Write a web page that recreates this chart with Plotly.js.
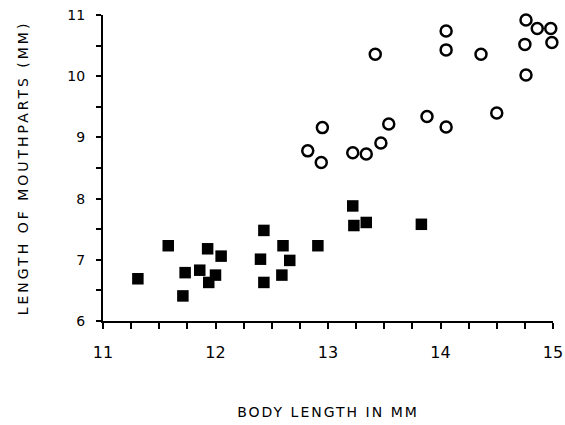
<!DOCTYPE html>
<html>
<head>
<meta charset="utf-8">
<script src="https://cdn.plot.ly/plotly-3.0.1.min.js"></script>
<style>
html,body{margin:0;padding:0;background:#fff;}
.xtitle{letter-spacing:2px;}
.ytitle{letter-spacing:3px;}
</style>
</head>
<body>
<div id="chart" style="width:565px;height:425px;"></div>
<script>
// Open circles (upper group)
const circleX = [12.82, 12.95, 12.94, 13.22, 13.34, 13.47, 13.54, 13.42, 13.88, 14.05, 14.05, 14.05, 14.36, 14.50, 14.75, 14.76, 14.76, 14.86, 14.98, 14.99];
const circleY = [8.78, 9.16, 8.59, 8.75, 8.73, 8.91, 9.22, 10.36, 9.34, 9.17, 10.43, 10.74, 10.36, 9.40, 10.52, 10.02, 10.92, 10.78, 10.78, 10.55];
// Filled squares (lower group)
const squareX = [11.31, 11.58, 11.73, 11.71, 11.86, 11.93, 11.94, 12.05, 12.00, 12.40, 12.43, 12.43, 12.60, 12.66, 12.59, 12.91, 13.22, 13.23, 13.34, 13.83];
const squareY = [6.69, 7.23, 6.79, 6.41, 6.83, 7.18, 6.63, 7.06, 6.75, 7.01, 7.48, 6.63, 7.23, 6.99, 6.75, 7.23, 7.88, 7.56, 7.61, 7.58];

const xTicks = [11, 12, 13, 14, 15];
const yTicks = [6, 7, 8, 9, 10, 11];

const data = [
  {
    x: circleX, y: circleY, type: 'scatter', mode: 'markers',
    marker: {symbol: 'circle-open', size: 11, color: '#000', line: {width: 2.5, color: '#000'}},
    cliponaxis: false, hoverinfo: 'x+y'
  },
  {
    x: squareX, y: squareY, type: 'scatter', mode: 'markers',
    marker: {symbol: 'square', size: 11.5, color: '#000'},
    cliponaxis: false, hoverinfo: 'x+y'
  }
];

const layout = {
  width: 565, height: 425,
  margin: {l: 103, r: 12, t: 15, b: 104},
  paper_bgcolor: '#fff', plot_bgcolor: '#fff',
  showlegend: false,
  font: {family: 'DejaVu Sans, sans-serif', color: '#000'},
  xaxis: {
    range: [11, 15], tickvals: xTicks, ticktext: xTicks.map(String),
    showgrid: false, zeroline: false, showline: true, linecolor: '#000', linewidth: 2,
    ticks: 'outside', ticklen: 6, tickwidth: 2, tickcolor: '#000',
    ticklabelstandoff: 10,
    minor: {dtick: 0.25, tick0: 11, ticks: 'outside', ticklen: 6, tickwidth: 2, tickcolor: '#000', showgrid: false},
    tickfont: {size: 16, color: '#000'},
    title: {text: 'BODY LENGTH IN MM', font: {size: 14, color: '#000'}, standoff: 46}
  },
  yaxis: {
    range: [6, 11], tickvals: yTicks, ticktext: yTicks.map(String),
    showgrid: false, zeroline: false, showline: true, linecolor: '#000', linewidth: 2,
    ticks: 'outside', ticklen: 5, tickwidth: 2, tickcolor: '#000',
    ticklabelstandoff: 8,
    minor: {dtick: 0.5, tick0: 6, ticks: 'outside', ticklen: 5, tickwidth: 2, tickcolor: '#000', showgrid: false},
    tickfont: {size: 14, color: '#000'},
    title: {text: 'LENGTH OF MOUTHPARTS (MM)', font: {size: 14, color: '#000'}, standoff: 35}
  }
};

Plotly.newPlot('chart', data, layout, {displayModeBar: false, staticPlot: true});
</script>
</body>
</html>
